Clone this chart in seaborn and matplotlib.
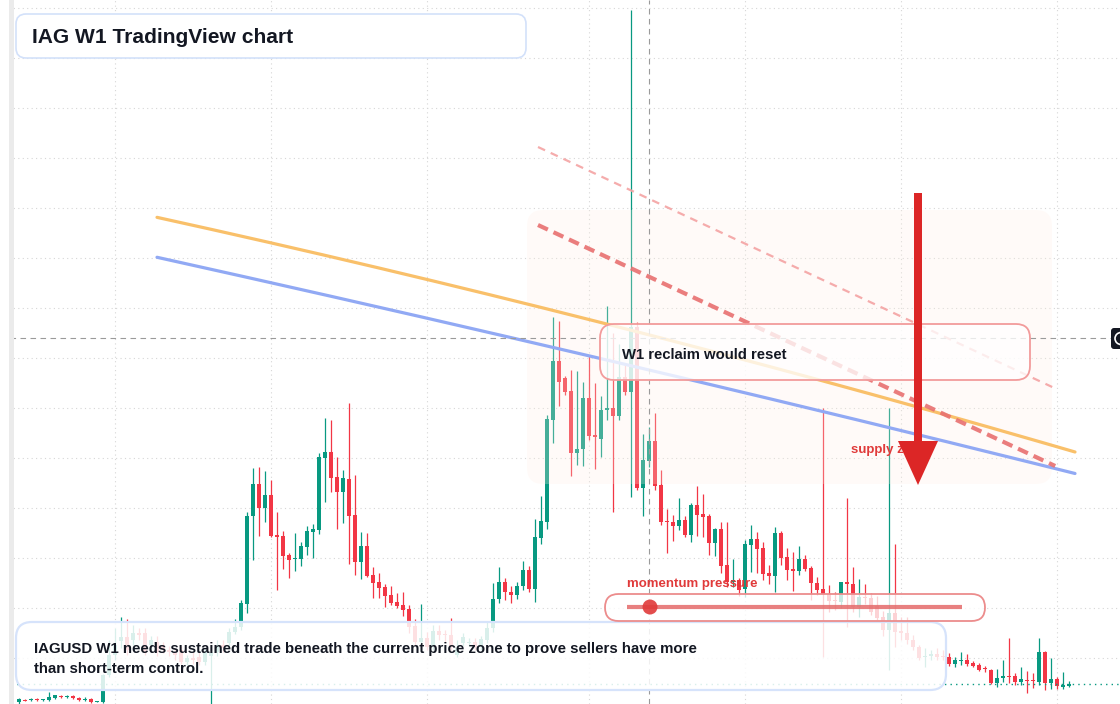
import numpy as np
import pandas as pd
import matplotlib
matplotlib.use("Agg")
import matplotlib.pyplot as plt
import matplotlib.transforms as mtransforms
from matplotlib.patches import FancyBboxPatch, Rectangle, Polygon, Circle
import seaborn as sns

# weekly IAG candles, price in chart units (the price scale is cut off in the screenshot)
opens = [106, 108, 108, 109, 108, 108, 110, 112, 111, 112,
         110, 108, 109, 106, 106, 133, 153, 167, 171, 168,
         175, 175, 163, 166, 163, 158, 156, 158, 146, 150,
         151, 146, 152, 156, 163, 165, 176, 181, 204, 292,
         324, 300, 313, 273, 272, 253, 249, 249, 261, 276,
         278, 350, 356, 331, 316, 329, 293, 246, 262, 233,
         226, 221, 213, 206, 203, 199, 182, 166, 170, 161,
         177, 174, 173, 153, 165, 165, 166, 161, 168, 180,
         209, 226, 216, 213, 222, 238, 219, 270, 286, 388,
         447, 430, 417, 355, 359, 410, 373, 369, 398, 400,
         392, 431, 416, 481, 320, 347, 367, 323, 287, 286,
         282, 288, 273, 303, 294, 292, 265, 279, 243, 226,
         228, 219, 263, 269, 260, 235, 232, 275, 251, 239,
         237, 249, 240, 225, 219, 214, 208, 206, 226, 224,
         201, 211, 210, 202, 191, 178, 195, 177, 175, 168,
         161, 151, 152, 154, 152, 151, 144, 147, 148, 145,
         143, 140, 138, 125, 130, 132, 132, 126, 128, 128,
         126, 156, 125, 129, 121, 122]
highs = [110, 109, 110, 110, 109, 116, 113, 113, 113, 113,
         111, 111, 110, 107, 134, 168, 180, 191, 189, 183,
         180, 180, 172, 172, 166, 162, 160, 162, 153, 156,
         156, 160, 162, 168, 168, 180, 189, 208, 296, 340,
         341, 337, 328, 296, 277, 255, 275, 266, 282, 284,
         355, 390, 388, 351, 338, 405, 333, 276, 275, 241,
         235, 224, 222, 215, 216, 203, 189, 204, 176, 183,
         183, 178, 190, 168, 175, 170, 170, 172, 186, 225,
         241, 230, 222, 226, 247, 242, 289, 312, 393, 491,
         487, 432, 438, 437, 426, 452, 425, 412, 502, 475,
         464, 445, 798, 486, 374, 381, 395, 338, 299, 293,
         310, 292, 305, 322, 314, 294, 280, 286, 286, 249,
         230, 268, 283, 276, 266, 243, 281, 277, 260, 256,
         262, 253, 242, 231, 400, 223, 216, 226, 310, 241,
         229, 224, 215, 212, 197, 400, 264, 191, 191, 173,
         163, 160, 158, 160, 158, 155, 151, 156, 154, 147,
         145, 142, 139, 139, 148, 170, 135, 141, 137, 135,
         170, 157, 150, 131, 136, 127]
lows = [104, 107, 107, 107, 107, 107, 109, 110, 110, 109,
        107, 107, 105, 106, 105, 131, 148, 160, 153, 163,
        168, 153, 158, 152, 155, 152, 148, 144, 143, 144,
        143, 143, 96, 152, 156, 162, 174, 178, 195, 248,
        272, 286, 271, 218, 239, 230, 237, 242, 253, 250,
        274, 306, 316, 279, 285, 244, 233, 229, 231, 210,
        210, 201, 203, 200, 192, 175, 163, 160, 158, 158,
        168, 165, 158, 151, 162, 162, 158, 158, 165, 176,
        205, 208, 205, 209, 218, 216, 206, 264, 279, 365,
        402, 413, 332, 343, 342, 368, 339, 351, 388, 296,
        388, 413, 311, 318, 292, 341, 318, 283, 255, 267,
        278, 271, 266, 272, 271, 253, 252, 235, 221, 221,
        212, 211, 236, 235, 228, 224, 216, 243, 228, 217,
        233, 237, 208, 213, 151, 196, 198, 200, 181, 196,
        191, 204, 193, 188, 172, 138, 161, 168, 164, 158,
        148, 141, 148, 148, 148, 142, 141, 143, 142, 141,
        137, 136, 124, 121, 126, 125, 123, 123, 115, 120,
        123, 118, 119, 119, 119, 121]
closes = [109, 107, 109, 108, 109, 111, 113, 111, 112, 110,
          108, 109, 106, 107, 133, 153, 163, 171, 158, 175,
          173, 155, 168, 156, 158, 156, 153, 146, 150, 148,
          146, 156, 156, 163, 160, 176, 181, 205, 292, 324,
          300, 313, 272, 271, 252, 248, 250, 262, 277, 279,
          351, 356, 330, 316, 330, 292, 246, 262, 232, 225,
          220, 212, 205, 202, 198, 181, 166, 170, 161, 177,
          173, 173, 161, 160, 171, 166, 161, 169, 180, 209,
          226, 216, 213, 222, 238, 219, 271, 287, 389, 447,
          426, 416, 355, 359, 410, 372, 371, 398, 400, 392,
          431, 416, 481, 320, 348, 367, 322, 286, 286, 282,
          288, 273, 303, 293, 291, 265, 279, 242, 226, 228,
          218, 264, 269, 259, 234, 232, 275, 250, 238, 237,
          249, 239, 225, 218, 214, 207, 207, 226, 224, 201,
          211, 210, 196, 190, 178, 195, 176, 175, 168, 161,
          150, 152, 154, 151, 151, 144, 148, 148, 144, 142,
          138, 139, 125, 130, 132, 131, 126, 129, 127, 127,
          156, 125, 129, 122, 123, 124]

last_price = 124
crosshair_week = 105
crosshair_price = 470
grid_weeks = [16, 42, 68, 95, 121, 147, 173]

# drawn trendlines (week, price anchors)
orange_w = [23, 76.8, 96.8, 140.2, 176]
orange_p = [590, 518, 485, 415, 357]
blue_w = [23, 46.8, 76.8, 113.5, 140.2, 176]
blue_p = [548, 522, 480, 423, 386, 336]
red_w = [86.5, 172.7]
red_p = [583, 342]
pink_w = [86.5, 172.2]
pink_p = [661, 421]

UP = "#089981"
DOWN = "#f23645"
INK = "#131722"
RED = "#dc2626"

sns.set_theme(style="white")
plt.rcParams["font.family"] = ["Liberation Sans", "DejaVu Sans"]

df = pd.DataFrame({"open": opens, "high": highs, "low": lows, "close": closes})
df["week"] = np.arange(len(df))
df["color"] = np.where(df["close"] >= df["open"], UP, DOWN)

W, H = 1120, 704
fig = plt.figure(figsize=(W / 100, H / 100), dpi=100)
ax = fig.add_axes([0, 0, 1, 1])
ax.set_xlim(-19 / 6, -19 / 6 + W / 6)
ax.set_ylim(104, 104 + H)
# pixel transform for the drawn overlays (y down, like the screenshot)
P = mtransforms.Affine2D().scale(1 / W, -1 / H).translate(0, 1) + ax.transAxes

ax.set_xticks(grid_weeks)
ax.set_yticks(np.arange(150, 801, 50))
ax.grid(True, color="#d6d6d6", linestyle=(0, (1, 3)), lw=0.8)
ax.set_axisbelow(True)
ax.tick_params(length=0, labelbottom=False, labelleft=False)
for s in ax.spines.values():
    s.set_visible(False)

# candles
ax.vlines(df["week"], df["low"], df["high"], colors=df["color"], lw=0.9, zorder=2)
body = (df["close"] - df["open"]).abs().clip(lower=1)
ax.bar(df["week"], body, bottom=df[["open", "close"]].min(axis=1), width=0.8,
       color=df["color"], lw=0, zorder=3)

# supply zone wash
ax.add_patch(FancyBboxPatch((527, 210), 525, 274, boxstyle="round,pad=0,rounding_size=16",
                            fc="#ffefe4", ec="none", alpha=0.25, transform=P, zorder=4))


def smooth(xs, ys):
    coef = np.polyfit(xs, ys, 2)
    xx = np.linspace(xs[0], xs[-1], 200)
    return xx, np.polyval(coef, xx)


ox, oy = smooth(orange_w, orange_p)
bx, by = smooth(blue_w, blue_p)
sns.lineplot(x=ox, y=oy, ax=ax, color="#f9c06a", lw=2.3, zorder=5)
sns.lineplot(x=bx, y=by, ax=ax, color="#91a9f4", lw=2.3, zorder=5)
sns.lineplot(x=red_w, y=red_p, ax=ax, color="#e87070", lw=3, alpha=0.9,
             linestyle=(0, (2.6, 1.5)), zorder=5)
sns.lineplot(x=pink_w, y=pink_p, ax=ax, color="#f4a3a3", lw=1.6, alpha=0.9,
             linestyle=(0, (3.5, 2.8)), zorder=5)

# price line and crosshair
ax.axhline(last_price, color=UP, lw=1, linestyle=(0, (1, 3)), zorder=5)
ax.axvline(crosshair_week, color="#9a9a9a", lw=0.8, linestyle=(0, (5, 4)), zorder=6)
ax.axhline(crosshair_price, color="#9a9a9a", lw=0.8, linestyle=(0, (5, 4)), zorder=6)

# annotation boxes
ax.add_patch(FancyBboxPatch((16, 14), 510, 44, boxstyle="round,pad=0,rounding_size=10",
                            fc="white", ec="#d3e1fa", lw=1.2, transform=P, zorder=7))
ax.add_patch(FancyBboxPatch((16, 622), 930, 68, boxstyle="round,pad=0,rounding_size=16",
                            fc=(1, 1, 1, 0.85), ec="#d6e3fb", lw=1.6, transform=P, zorder=7))
ax.add_patch(FancyBboxPatch((600, 324), 430, 56, boxstyle="round,pad=0,rounding_size=14",
                            fc=(1, 1, 1, 0.78), ec="#f29b9b", lw=1.3, transform=P, zorder=7))
ax.add_patch(FancyBboxPatch((605, 594), 380, 27, boxstyle="round,pad=0,rounding_size=13.5",
                            fc=(1, 1, 1, 0.78), ec="#ec8c8c", lw=1.3, transform=P, zorder=7))
ax.plot([627, 962], [607, 607], transform=P, color="#e46a6a", lw=3, alpha=0.85,
        solid_capstyle="butt", zorder=8)
ax.add_patch(Circle((650, 607), 7.5, fc="#e03a3a", ec="none", alpha=0.9, transform=P, zorder=8))

ax.text(32, 43, "IAG W1 TradingView chart", transform=P, fontsize=15.1, fontweight="bold",
        color=INK, va="baseline", zorder=8)
ax.text(34, 653, "IAGUSD W1 needs sustained trade beneath the current price zone to prove sellers have more",
        transform=P, fontsize=10.8, fontweight="bold", color=INK, va="baseline", zorder=8)
ax.text(34, 673, "than short-term control.", transform=P, fontsize=10.8, fontweight="bold",
        color=INK, va="baseline", zorder=8)
ax.text(622, 359, "W1 reclaim would reset", transform=P, fontsize=10.75, fontweight="bold",
        color=INK, va="baseline", zorder=8)
ax.text(627, 587, "momentum pressure", transform=P, fontsize=9.5, fontweight="bold",
        color="#e03a3a", va="baseline", zorder=8)
ax.text(851, 453, "supply zone", transform=P, fontsize=9.5, fontweight="bold",
        color="#e03a3a", va="baseline", zorder=8)

# bearish arrow
arrow = [(914, 193), (922, 193), (922, 441), (938, 441), (918, 485), (898, 441), (914, 441)]
ax.add_patch(Polygon(arrow, closed=True, fc=RED, ec="none", transform=P, zorder=9))

# blank margin, left scale strip and right-edge crosshair label
ax.add_patch(Rectangle((0, 0), 9, H, fc="white", ec="none", transform=P, zorder=10))
ax.add_patch(Rectangle((9, 0), 5, H, fc="#ebebeb", ec="none", transform=P, zorder=10))
ax.add_patch(FancyBboxPatch((1111, 328), 14, 21, boxstyle="round,pad=0,rounding_size=3",
                            fc="#131722", ec="none", transform=P, zorder=10))
ax.add_patch(Circle((1121, 338.5), 6, fc="none", ec="white", lw=1.2, transform=P, zorder=11))

fig.savefig("out.png", dpi=100)
